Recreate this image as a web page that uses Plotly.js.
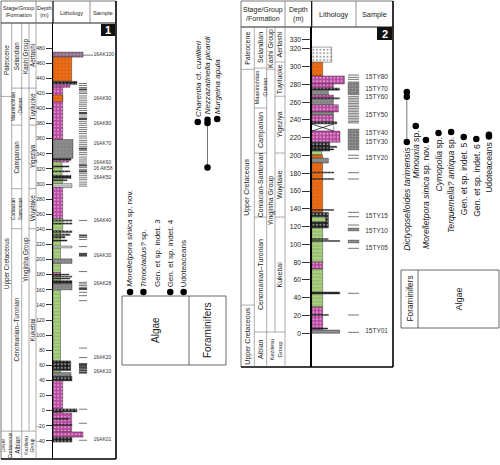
<!DOCTYPE html>
<html><head><meta charset="utf-8">
<script src="https://cdn.plot.ly/plotly-3.0.1.min.js"></script>
<style>html,body{margin:0;padding:0;background:#fff}#chart{width:500px;height:465px}</style>
</head><body><div id="chart"></div>
<script>
// ================= DATA =================
// Section 1 (16AK) lithology beds: top / base depth (m), grain-size width, rock type
const lith1Top  = [474.7,468,436,432,428,359,334,331.5,329,311.5,307.5,300.6,295.3,254,238,66,53,50.5,45.5,39.5,-3,-28,-35, 418,324,317.5,305.8,252.5,248.5,238,234,230.6,226,218,201,183,180.8,178.1,175.5,172.2,168,2.4,-10,-18];
const lith1Base = [468,436,432,428,359,334,331.5,329,311.5,307.5,300.6,295.3,254,238,66,53,50.5,45.5,39.5,-3,-28,-35,-41.5, 409,322.5,316,304.4,251,247,236,232,228.6,224.5,215.5,195,179,179.6,176.9,174.3,168.2,160,-1.6,-11.5,-19.5];
const lith1Size = [30,18.7,24,17,9.7,20,18,16,9,18,9.5,19,9.7,9.7,7.5,17.7,7.5,18,19,9.7,18.7,30,19, 9.7,16,17,14,19,19,19,17,12,14,19,19,7.5,16,19,17,19,19,24,16,19];
const lith1Type = ['q','o','k','m','m','y','k','m','g','k','g','l','m','g','g','k','g','y','k','m','m','m','k', 'o','k','k','k','k','k','k','k','k','k','l','y','m','k','k','k','k','y','k','k','k'];

// Section 2 (15TY) lithology beds
const lith2Top  = [322,305,289.5,280.5,276,273.5,268,265,263.5,257,249,245.5,238,235.5,227.5,215,205,200.6,197,191.6,136,118.5,80.2,72.3,29.6,3.7, 210.5,207.5,181.5,174.2,139.3,131,106.7,104.4,46.5,21.2,6];
const lith2Base = [305,289.5,280.5,276,273.5,268,265,263.5,257,249,245.5,238,235.5,227.5,215,205,200.6,197,191.6,136,118.5,80.2,72.3,29.6,3.7,0, 209,206.3,180.3,173,138.1,125.5,105.5,103.2,44.2,20,4.8];
const lith2Size = [20,11,32.7,21.7,27.7,16.7,21.7,27.7,21.7,26.7,21.7,21.7,25,22,28.3,18,10,11,16.7,11,16.7,11,11,11,11,28, 25,22,22,22,22,14,16.5,28,28,16.7,16];
const lith2Type = ['w','o','m','m','k','y','m','k','y','m','y','m','k','x','m','k','g','o','y','o','k','g','m','g','m','y', 'k','k','k','k','k','g','k','k','k','k','k'];

// Samples
const samp1Names = ['16AK100','16AK90','16AK80','16AK70','16AK60','16 AK58','16AK50','16AK40','16AK30','16AK28','16AK20','16AK10','16AK01'];
const samp1Depth = [470.7,412.3,380.5,354,328.8,320.9,308.9,251.8,205.4,168.2,70,51.5,-38.7];
const dash1Depth = [433.1,430.5,427.8,422.0,419.9,416.7,414.0,411.0,408.3,405.7,403.0,400.0,397.3,391.5,388.8,383.1,380.5,377.8,374.8,372.1,369.5,366.8,363.6,361.0,357.9,355.3,352.6,350.0,344.3,341.6,339.0,335.8,333.1,330.5,327.8,322.1,319.5,313.7,311.1,308.4,305.8,302.6,299.9,297.3,251.8,229.3,226.6,217.3,184.2,169.9,167.8,165.6,163.3,156.7,152.3,145.7,82.9,70.4,2.0,-16.6,-39.1];
const thick1Depth = [425.2,394.1,386.2,346.9,324.8,316.8,231.9,207.6,205.4,161.2,61.7,59.4,56.7,53.5,50.5];

const samp2Names = ['15TY80','15TY70','15TY60','15TY50','15TY40','15TY30','15TY20','15TY15','15TY10','15TY05','15TY01'];
const samp2Depth = [287.5,274.8,265,244.8,225,214.9,196.9,131.2,115.1,95.6,1.8];
const dash2Depth = [290.6,288.0,285.7,266.2,264.4,262.5,260.5,258.7,256.8,255.0,253.1,251.2,249.3,247.5,245.6,243.7,241.9,240.0,238.1,236.7,200.3,196.9,180.7,173.6,136.1,131.2,121.8,95.6,45.0,20.6,1.1];
const block2Top  = [283.0,229.8,118.5,105.0];
const block2Base = [268.1,206.2,115.1,101.6];

// Depth ticks
const depthTicks1 = [-40,-20,0,20,40,60,80,100,120,140,160,180,200,220,240,260,280,300,320,340,360,380,400,420,440,460,480];
const depthTicks2 = [0,20,40,60,80,100,120,140,160,180,200,220,240,260,280,300,320,330];

// Stratigraphic units (names + boundary depths between consecutive units)
const p1PeriodNames = ['Paleocene','Upper Cretaceous','Lower<br>Cretaceous'];
const p1PeriodBounds = [416,-27];
const p1StageNames = ['Selandian','Maastrichtian<br>-Danian','Campanian','Coniacian<br>Santonian','Cenomanian–Turonian','Albian'];
const p1StageBounds = [427,378,294,241,-27];
const p1GroupNames = ['Kashi Group','Yingjisha Group','Kezilesu<br>Group'];
const p1GroupBounds = [427,-27];
const p1FmNames = ['Aertashi','Tuyiluoke','Yigeziya','Wuyitake','Kukebai'];
const p1FmBounds = [427,378,294,241];

const p2PeriodNames = ['Paleocene','Upper Cretaceous','Upper Cretaceous'];
const p2PeriodBounds = [297,31.8];
const p2StageNames = ['Selandian','Maastrichtian<br>-Danian','Campanian','Coniacian-Santonian','Cenomanian–Turonian','Albian'];
const p2StageBounds = [298.4,253.5,202.8,130.8,1.5];
const p2GroupNames = ['Kashi Group','Yingjisha Group','Kezilesu<br>Group'];
const p2GroupBounds = [297,1.5];
const p2FmNames = ['Aertashi','Tuyiluoke','Yigeziya','Wuyitake','Kukebai'];
const p2FmBounds = [305.2,266.7,202.8,130.8];

// Fossil occurrences (depth, m)
const p1AlgaeNames = ['<i>Morelletpora sinica</i> sp. nov.','<i>Trinocladus?</i> sp.','Gen. et sp. indet. 3','Gen. et sp. indet. 4','Udoteaceans'];
const p1AlgaeOcc = [[157],[157],[],[157],[157]];
const p1ForamNames = ['<i>Charentia</i> cf. <i>cuvillieri</i>','<i>Nezzazatinella picardi</i>','<i>Murgeina apula</i>'];
const p1ForamOcc = [[382],[385,381,322],[386]];
const p2ForamNames = ['<i>Dictyopselloides tarimensis</i>','<i>Minouxia</i> sp.'];
const p2ForamOcc = [[271.4,266,215.2],[233.3]];
const p2AlgaeNames = ['<i>Morelletpora sinica</i> sp. nov.','<i>Cymopolia</i> sp.','<i>Terquemella? antiqua</i> sp.','Gen. et sp. indet. 5','Gen. et sp. indet. 6','Udoteaceans'];
const p2AlgaeOcc = [[217.5],[225.4],[226.5],[220.8],[218.6],[223.5,221.5]];

// ================= DRAWING =================
const W = 500, H = 465;
const FONT = 'Arial, "Liberation Sans", sans-serif';
const fx = x => x / W, fy = y => 1 - y / H;
const shapes = [], ann = [], traces = [];

const G1 = {cols:[1,11.7,21.7,29,36], L:1, R:116, HB:23, B:459, lithL:53, sampL:90, yref:'y', xref:'x', top:513.2, bot:-63.9, uf:6.3, litW:63};
const G2 = {cols:[241,254.3,266.7,275,285], L:241, R:393, HB:27, B:367, lithL:311.7, sampL:356, yref:'y2', xref:'x2', top:344.6, bot:-37.9, uf:7, litW:81.3};

function pline(x0,y0,x1,y1,w,c){ shapes.push({type:'line',xref:'paper',yref:'paper',x0:fx(x0),x1:fx(x1),y0:fy(y0),y1:fy(y1),line:{width:w,color:c}}); }
function dline(G,x0,d0,x1,d1,w,c){ shapes.push({type:'line',xref:'paper',yref:G.yref,x0:fx(x0),x1:fx(x1),y0:d0,y1:d1,line:{width:w,color:c}}); }
function prect(x0,y0,x1,y1,w,c,fill){ shapes.push({type:'rect',xref:'paper',yref:'paper',x0:fx(x0),x1:fx(x1),y0:fy(y1),y1:fy(y0),line:{width:w,color:c},fillcolor:fill||'rgba(0,0,0,0)'}); }
function note(x,y,t,size,o){ ann.push(Object.assign({xref:'paper',yref:'paper',x:fx(x),y:fy(y),text:t,showarrow:false,borderpad:0,font:{size:size,color:'#222',family:FONT},xanchor:'center',yanchor:'middle'},o||{})); }

// ---- frames
function frame(G, hdr, badge){
  pline(G.L,1,G.R,1,0.8,'#555');
  pline(G.L,1,G.L,G.B,0.8,'#555');
  pline(G.L,G.HB,G.R,G.HB,1,'#222');
  pline(G.cols[4],1,G.cols[4],G.HB,0.7,'#666');
  pline(G.lithL,1,G.lithL,G.HB,1.2,'#000');
  pline(G.sampL,1,G.sampL,G.HB,0.7,'#666');
  pline(G.R,1,G.R,G.B,1.6,'#000');
  pline(G.L,G.B,G.R,G.B,1.3,'#000');
  pline(G.cols[1],G.HB,G.cols[1],G.B,0.6,'#777');
  pline(G.cols[2],G.HB,G.cols[2],G.B,0.6,'#777');
  pline(G.cols[4],G.HB,G.cols[4],G.B,0.6,'#777');
  const hy = (1+G.HB)/2;
  note((G.L+G.cols[4])/2, hy, 'Stage/Group<br>/Formation', hdr);
  note((G.cols[4]+G.lithL)/2, hy, 'Depth<br>(m)', hdr);
  note((G.lithL+G.sampL)/2, hy+1, 'Lithology', hdr+0.3);
  note((G.sampL+G.R)/2, hy+1, 'Sample', hdr+0.3);
  prect(badge[0],badge[1],badge[2],badge[3],0,'#000','#111');
  note((badge[0]+badge[2])/2,(badge[1]+badge[3])/2+0.5,'<b>'+badge[4]+'</b>',11,{font:{size:11,color:'#fff',family:FONT}});
}
frame(G1,5.5,[101,24,115,36,'1']);
frame(G2,7,[377,27,392,40,'2']);

function unitCol(G, ci, names, bounds, span, bottom){
  const edges = [G.top].concat(bounds).concat([bottom===undefined?G.bot:bottom]);
  for(let i=0;i<names.length;i++){
    const t=edges[i], b=edges[i+1];
    let x0=G.cols[ci], x1=G.cols[ci+1];
    if(span && i===names.length-1) x1=G.cols[ci+2];
    if(i>0) dline(G,x0,t,x1,t,0.6,'#777');
    const fs = names[i].indexOf('<br>')>=0 ? G.uf-1.3 : G.uf;
    ann.push({xref:'paper',yref:G.yref,x:fx((x0+x1)/2),y:(t+b)/2,text:names[i],textangle:-90,showarrow:false,borderpad:0,
      font:{size:fs,color:'#222',family:FONT},xanchor:'center',yanchor:'middle'});
  }
}
function units(G, per, perB, st, stB, gr, grB, fm, fmB){
  unitCol(G,0,per,perB);
  unitCol(G,1,st,stB);
  unitCol(G,2,gr,grB,true);
  const lastG = grB[grB.length-1];
  unitCol(G,3,fm,fmB,false,lastG);
  dline(G,G.cols[3],G.top,G.cols[3],lastG,0.6,'#777');
}
units(G1,p1PeriodNames,p1PeriodBounds,p1StageNames,p1StageBounds,p1GroupNames,p1GroupBounds,p1FmNames,p1FmBounds);
units(G2,p2PeriodNames,p2PeriodBounds,p2StageNames,p2StageBounds,p2GroupNames,p2GroupBounds,p2FmNames,p2FmBounds);

// ---- lithology
const rockColor = {o:'#EE6B14',m:'#B8479F',g:'#A8D17E',y:'#8F8F8F',k:'#1E1E1E',l:'#D4D4D4',w:'#FFFFFF',x:'#FFFFFF',q:'#A67D9C'};
const rockPat   = {o:'.',m:'.',g:'-',y:'+',k:'.',l:'-',w:'.',x:'',q:'.'};
const rockFg    = {o:'#6a2a00',m:'#3d0a33',g:'#6f9255',y:'#333333',k:'#aaaaaa',l:'#777777',w:'#000000',x:'#000000',q:'#333333'};
const rockSol   = {o:0.12,m:0.25,g:0.15,y:0.2,k:0.3,l:0.2,w:0.25,x:0.1,q:0.3};
function lith(G, tops, bases, sizes, types){
  const mid = tops.map((t,i)=>(t+bases[i])/2), th = tops.map((t,i)=>t-bases[i]);
  traces.push({type:'bar',orientation:'h',xaxis:G.xref,yaxis:G.yref,y:mid,x:sizes,width:th,
    marker:{color:types.map(t=>rockColor[t]),line:{width:0.4,color:'#222'},
      pattern:{shape:types.map(t=>rockPat[t]),fgcolor:types.map(t=>rockFg[t]),size:3.5,solidity:types.map(t=>rockSol[t]),fillmode:'overlay'}},
    hoverinfo:'skip',showlegend:false});
  types.forEach((t,i)=>{ if(t==='x') traces.push({type:'scatter',mode:'lines',xaxis:G.xref,yaxis:G.yref,
    x:[0,sizes[i],null,0,sizes[i]],y:[tops[i],bases[i],null,bases[i],tops[i]],line:{width:0.7,color:'#000'},hoverinfo:'skip',showlegend:false}); });
}
lith(G1,lith1Top,lith1Base,lith1Size,lith1Type);
lith(G2,lith2Top,lith2Base,lith2Size,lith2Type);

// ---- samples
function samples(G, dashX, dashSize, dashes, thick, names, depths, labX, fs){
  traces.push({type:'scatter',mode:'markers',xaxis:G.xref,yaxis:G.yref,x:dashes.map(()=>dashX),y:dashes,
    marker:{symbol:'line-ew',size:dashSize,line:{width:0.9,color:'#666'}},hoverinfo:'skip',showlegend:false,cliponaxis:false});
  if(thick) traces.push({type:'scatter',mode:'markers',xaxis:G.xref,yaxis:G.yref,x:thick.map(()=>dashX),y:thick,
    marker:{symbol:'line-ew',size:dashSize,line:{width:2,color:'#444'}},hoverinfo:'skip',showlegend:false,cliponaxis:false});
  traces.push({type:'scatter',mode:'text',xaxis:G.xref,yaxis:G.yref,x:names.map(()=>labX),y:depths,text:names,
    textposition:'middle right',textfont:{size:fs,color:'#333',family:FONT},hoverinfo:'skip',showlegend:false,cliponaxis:false});
}
samples(G1,30,5.8,dash1Depth,thick1Depth,samp1Names,samp1Depth,40.5,5);
traces.push({type:'scatter',mode:'lines',xaxis:'x',yaxis:'y',x:[30,40],y:[samp1Depth[0],samp1Depth[0]],line:{width:0.8,color:'#555'},hoverinfo:'skip',showlegend:false});
samples(G2,41.8,7.8,dash2Depth,null,samp2Names,samp2Depth,53.5,6.5);
traces.push({type:'bar',orientation:'h',xaxis:'x2',yaxis:'y2',y:block2Top.map((t,i)=>(t+block2Base[i])/2),width:block2Top.map((t,i)=>t-block2Base[i]),
  x:block2Top.map(()=>11),base:36.3,marker:{color:'#7d7d7d',line:{width:0.3,color:'#444'},pattern:{shape:'.',fgcolor:'#cfcfcf',size:3,solidity:0.15,fillmode:'overlay'}},hoverinfo:'skip',showlegend:false});

// ---- fossil ranges
function fossils(names, occ, xa, ya, above, fs){
  const all = [].concat(...occ);
  const groupLevel = above ? Math.max(...all) : Math.min(...all);
  names.forEach((n,i)=>{
    const d = occ[i];
    if(d.length>1) traces.push({type:'scatter',mode:'lines',xaxis:xa,yaxis:ya,x:[i,i],y:[Math.min(...d),Math.max(...d)],line:{width:1,color:'#777'},hoverinfo:'skip',showlegend:false});
  });
  const xs=[], ys=[];
  occ.forEach((d,i)=>d.forEach(v=>{xs.push(i);ys.push(v);}));
  traces.push({type:'scatter',mode:'markers',xaxis:xa,yaxis:ya,x:xs,y:ys,marker:{size:6.5,color:'#000'},hoverinfo:'skip',showlegend:false,cliponaxis:false});
  names.forEach((n,i)=>{
    const d = occ[i];
    const y = d.length ? (above ? Math.max(...d) : Math.min(...d)) : groupLevel;
    ann.push({xref:xa,yref:ya,x:i,y:y,text:n,textangle:-90,showarrow:false,borderpad:0,borderwidth:0,
      font:{size:fs,color:'#222',family:FONT},xanchor:'center',yanchor:above?'bottom':'top',yshift:above?5:-5});
  });
}
fossils(p1AlgaeNames,p1AlgaeOcc,'x3','y',true,8);
fossils(p1ForamNames,p1ForamOcc,'x4','y',true,8);
fossils(p2ForamNames,p2ForamOcc,'x5','y2',false,8.6);
fossils(p2AlgaeNames,p2AlgaeOcc,'x6','y2',false,8.6);

prect(122,296,226,365,0.8,'#444'); pline(189,296,189,365,0.8,'#444');
note(155.5,330.5,'Algae',10,{textangle:-90}); note(207.5,330.5,'Foraminifers',10,{textangle:-90});
prect(401,270,499,328,0.8,'#444'); pline(418,270,418,328,0.8,'#444');
note(409.5,299,'Foraminifers',8.3,{textangle:-90}); note(458.5,299,'Algae',9,{textangle:-90});

const hid = {visible:false,fixedrange:true};
const layout = {
  width:W,height:H,margin:{l:0,r:0,t:0,b:0},paper_bgcolor:'#fff',plot_bgcolor:'rgba(0,0,0,0)',
  showlegend:false,barmode:'overlay',font:{family:FONT},
  xaxis:Object.assign({domain:[fx(G1.lithL),fx(G1.R)],range:[0,G1.litW],anchor:'y'},hid),
  yaxis:{domain:[fy(G1.B),fy(G1.HB)],range:[G1.bot,G1.top],anchor:'x',showline:true,linecolor:'#000',linewidth:1.3,
    ticks:'outside',ticklen:6,tickwidth:0.8,tickcolor:'#000',tickvals:depthTicks1,tickfont:{size:5,color:'#222'},showgrid:false,zeroline:false,fixedrange:true,ticklabeloverflow:'allow'},
  xaxis2:Object.assign({domain:[fx(G2.lithL),fx(G2.R)],range:[0,G2.litW],anchor:'y2'},hid),
  yaxis2:{domain:[fy(G2.B),fy(G2.HB)],range:[G2.bot,G2.top],anchor:'x2',showline:true,linecolor:'#000',linewidth:1.3,
    ticks:'outside',ticklen:8,tickwidth:0.8,tickcolor:'#000',tickvals:depthTicks2,tickfont:{size:6.8,color:'#222'},showgrid:false,zeroline:false,fixedrange:true,ticklabeloverflow:'allow'},
  xaxis3:Object.assign({domain:[fx(122),fx(189)],range:[-0.6,4.4],anchor:'y'},hid),
  xaxis4:Object.assign({domain:[fx(189),fx(226)],range:[-0.9,2.9],anchor:'y'},hid),
  xaxis5:Object.assign({domain:[fx(401),fx(418)],range:[-0.65,1.25],anchor:'y2'},hid),
  xaxis6:Object.assign({domain:[fx(418),fx(499)],range:[-0.63,5.8],anchor:'y2'},hid),
  shapes:shapes,annotations:ann
};
Plotly.newPlot('chart',traces,layout,{displayModeBar:false,staticPlot:true});
</script></body></html>
